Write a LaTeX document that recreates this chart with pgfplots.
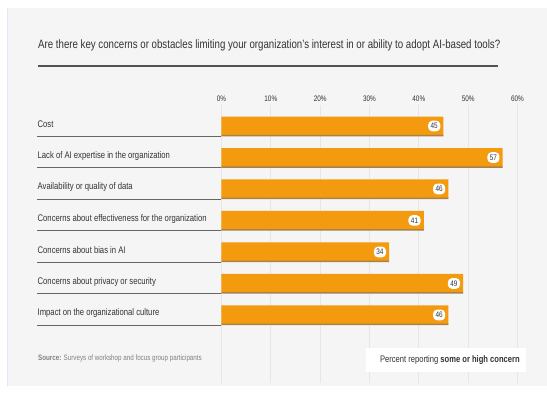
\documentclass[border=0pt]{standalone}
\usepackage{fontspec}
\setmainfont{Liberation Sans}[FakeStretch=0.8]
\usepackage{pgfplots}
\pgfplotsset{compat=1.18}
\definecolor{barc}{HTML}{F49A0E}
\definecolor{barshade}{HTML}{A8824A}
\definecolor{panel}{HTML}{F5F5F5}
\definecolor{gridc}{HTML}{E6E6E6}
\definecolor{txt}{HTML}{333333}
\begin{document}
\begin{tikzpicture}
\fill[white] (0pt,0pt) rectangle (547pt,394pt);
\fill[panel] (7pt,8pt) rectangle (547pt,386pt);
\draw[blue!10,line width=1pt] (7pt,8pt) -- (7pt,386pt);
\node[anchor=west,text=txt,font=\fontsize{12.1}{14}\selectfont,inner sep=0pt] at (38pt,349pt) {Are there key concerns or obstacles limiting your organization's interest in or ability to adopt AI-based tools?};
\draw[txt!85,line width=1.5pt] (38pt,328pt) -- (498pt,328pt);
\begin{axis}[
  at={(221.5pt,289pt)}, anchor=north west,
  scale only axis, width=296pt, height=278pt,
  xmin=0, xmax=60, ymin=-0.667, ymax=8.16, y dir=reverse,
  xbar, bar width=19pt,
  axis line style={draw=none},
  xtick={0,10,20,30,40,50,60},
  xticklabels={0\%,10\%,20\%,30\%,40\%,50\%,60\%},
  xticklabel pos=upper,
  xticklabel style={font=\fontsize{8}{9}\selectfont, text=txt},
  ytick=\empty, major tick length=0pt,
  xmajorgrids, grid style={gridc, line width=0.8pt},
  clip=false,
  /pgf/number format/assume math mode=true,
]
\addplot[fill=barc, draw=none, bar shift=0pt,
  nodes near coords,
  nodes near coords style={anchor=east, xshift=-3pt, fill=white, rounded corners=4pt, inner sep=2.5pt, text=txt, font=\fontsize{8}{9}\selectfont}]
  coordinates {(45,0) (57,1) (46,2) (41,3) (34,4) (49,5) (46,6)};
\addplot[fill=barshade, draw=none, bar width=1.5pt, bar shift=-9.5pt]
  coordinates {(45,0) (57,1) (46,2) (41,3) (34,4) (49,5) (46,6)};
\pgfplotsinvokeforeach{0,...,6}{
  \draw[gray!80!black, line width=1pt] (axis cs:-37.3,#1+0.33) -- (axis cs:0,#1+0.33);
}
\tikzset{catlab/.style={anchor=west,text=txt,font=\fontsize{9.6}{10}\selectfont,inner sep=0pt}}
\node[catlab] at (axis cs:-37.3,-0.05) {Cost};
\node[catlab] at (axis cs:-37.3,0.95) {Lack of AI expertise in the organization};
\node[catlab] at (axis cs:-37.3,1.95) {Availability or quality of data};
\node[catlab] at (axis cs:-37.3,2.95) {Concerns about effectiveness for the organization};
\node[catlab] at (axis cs:-37.3,3.95) {Concerns about bias in AI};
\node[catlab] at (axis cs:-37.3,4.95) {Concerns about privacy or security};
\node[catlab] at (axis cs:-37.3,5.95) {Impact on the organizational culture};
\end{axis}
\node[anchor=west,font=\fontsize{7.8}{8}\selectfont,text=gray,inner sep=0pt] at (38pt,36pt) {\textbf{Source:} Surveys of workshop and focus group participants};
\fill[white] (366pt,22pt) rectangle (526pt,46pt);
\node[anchor=east,font=\fontsize{9.5}{10}\selectfont,text=txt,inner sep=0pt] at (520pt,34pt) {Percent reporting \textbf{some or high concern}};
\end{tikzpicture}
\end{document}
